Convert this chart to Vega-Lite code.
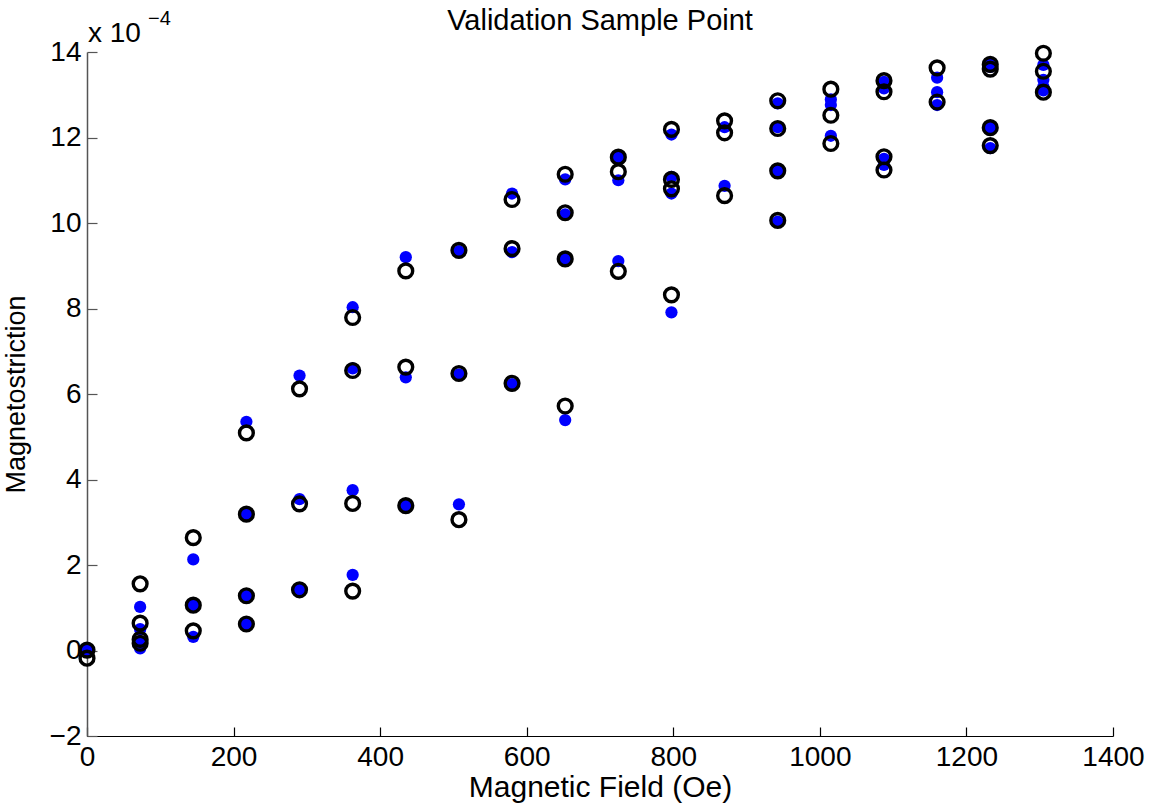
{
  "$schema": "https://vega.github.io/schema/vega-lite/v6.json",
  "autosize": "none",
  "width": 1026,
  "height": 684,
  "padding": {"left": 87, "top": 52, "right": 41, "bottom": 72},
  "background": "white",
  "config": {
    "view": {"stroke": null},
    "font": "Liberation Sans"
  },
  "title": {
    "text": "Validation Sample Point",
    "font": "Liberation Sans",
    "fontSize": 29,
    "fontWeight": "normal",
    "color": "black",
    "anchor": "middle",
    "offset": -27
  },
  "data": {
    "values": [
      {"H": 0, "L": 0.01, "kind": "Model"},
      {"H": 72.5, "L": 1.02, "kind": "Model"},
      {"H": 72.5, "L": 0.50, "kind": "Model"},
      {"H": 72.5, "L": 0.22, "kind": "Model"},
      {"H": 72.5, "L": 0.05, "kind": "Model"},
      {"H": 145, "L": 2.13, "kind": "Model"},
      {"H": 145, "L": 1.06, "kind": "Model"},
      {"H": 145, "L": 0.32, "kind": "Model"},
      {"H": 217.5, "L": 5.35, "kind": "Model"},
      {"H": 217.5, "L": 3.19, "kind": "Model"},
      {"H": 217.5, "L": 1.29, "kind": "Model"},
      {"H": 217.5, "L": 0.62, "kind": "Model"},
      {"H": 290, "L": 6.43, "kind": "Model"},
      {"H": 290, "L": 3.54, "kind": "Model"},
      {"H": 290, "L": 1.42, "kind": "Model"},
      {"H": 362.5, "L": 8.03, "kind": "Model"},
      {"H": 362.5, "L": 6.60, "kind": "Model"},
      {"H": 362.5, "L": 3.75, "kind": "Model"},
      {"H": 362.5, "L": 1.77, "kind": "Model"},
      {"H": 435, "L": 9.20, "kind": "Model"},
      {"H": 435, "L": 6.39, "kind": "Model"},
      {"H": 435, "L": 3.39, "kind": "Model"},
      {"H": 507.5, "L": 9.34, "kind": "Model"},
      {"H": 507.5, "L": 6.46, "kind": "Model"},
      {"H": 507.5, "L": 3.42, "kind": "Model"},
      {"H": 580, "L": 10.69, "kind": "Model"},
      {"H": 580, "L": 9.32, "kind": "Model"},
      {"H": 580, "L": 6.23, "kind": "Model"},
      {"H": 652.5, "L": 11.02, "kind": "Model"},
      {"H": 652.5, "L": 10.20, "kind": "Model"},
      {"H": 652.5, "L": 9.16, "kind": "Model"},
      {"H": 652.5, "L": 5.39, "kind": "Model"},
      {"H": 725, "L": 11.54, "kind": "Model"},
      {"H": 725, "L": 11.00, "kind": "Model"},
      {"H": 725, "L": 9.11, "kind": "Model"},
      {"H": 797.5, "L": 12.07, "kind": "Model"},
      {"H": 797.5, "L": 11.08, "kind": "Model"},
      {"H": 797.5, "L": 10.69, "kind": "Model"},
      {"H": 797.5, "L": 7.91, "kind": "Model"},
      {"H": 870, "L": 12.24, "kind": "Model"},
      {"H": 870, "L": 10.87, "kind": "Model"},
      {"H": 942.5, "L": 12.80, "kind": "Model"},
      {"H": 942.5, "L": 12.24, "kind": "Model"},
      {"H": 942.5, "L": 11.22, "kind": "Model"},
      {"H": 942.5, "L": 10.03, "kind": "Model"},
      {"H": 1015, "L": 12.89, "kind": "Model"},
      {"H": 1015, "L": 12.76, "kind": "Model"},
      {"H": 1015, "L": 12.04, "kind": "Model"},
      {"H": 1087.5, "L": 13.30, "kind": "Model"},
      {"H": 1087.5, "L": 13.15, "kind": "Model"},
      {"H": 1087.5, "L": 11.50, "kind": "Model"},
      {"H": 1087.5, "L": 11.36, "kind": "Model"},
      {"H": 1160, "L": 13.40, "kind": "Model"},
      {"H": 1160, "L": 13.06, "kind": "Model"},
      {"H": 1160, "L": 12.76, "kind": "Model"},
      {"H": 1232.5, "L": 13.73, "kind": "Model"},
      {"H": 1232.5, "L": 13.65, "kind": "Model"},
      {"H": 1232.5, "L": 12.23, "kind": "Model"},
      {"H": 1232.5, "L": 11.75, "kind": "Model"},
      {"H": 1305, "L": 13.70, "kind": "Model"},
      {"H": 1305, "L": 13.35, "kind": "Model"},
      {"H": 1305, "L": 13.19, "kind": "Model"},
      {"H": 1305, "L": 13.10, "kind": "Model"},

      {"H": 0, "L": 0.01, "kind": "Measured"},
      {"H": 0, "L": -0.18, "kind": "Measured"},
      {"H": 72.5, "L": 1.56, "kind": "Measured"},
      {"H": 72.5, "L": 0.64, "kind": "Measured"},
      {"H": 72.5, "L": 0.26, "kind": "Measured"},
      {"H": 72.5, "L": 0.17, "kind": "Measured"},
      {"H": 145, "L": 2.64, "kind": "Measured"},
      {"H": 145, "L": 1.06, "kind": "Measured"},
      {"H": 145, "L": 0.46, "kind": "Measured"},
      {"H": 217.5, "L": 5.09, "kind": "Measured"},
      {"H": 217.5, "L": 3.19, "kind": "Measured"},
      {"H": 217.5, "L": 1.28, "kind": "Measured"},
      {"H": 217.5, "L": 0.62, "kind": "Measured"},
      {"H": 290, "L": 6.12, "kind": "Measured"},
      {"H": 290, "L": 3.43, "kind": "Measured"},
      {"H": 290, "L": 1.42, "kind": "Measured"},
      {"H": 362.5, "L": 7.79, "kind": "Measured"},
      {"H": 362.5, "L": 6.55, "kind": "Measured"},
      {"H": 362.5, "L": 3.44, "kind": "Measured"},
      {"H": 362.5, "L": 1.39, "kind": "Measured"},
      {"H": 435, "L": 8.88, "kind": "Measured"},
      {"H": 435, "L": 6.63, "kind": "Measured"},
      {"H": 435, "L": 3.39, "kind": "Measured"},
      {"H": 507.5, "L": 9.36, "kind": "Measured"},
      {"H": 507.5, "L": 6.48, "kind": "Measured"},
      {"H": 507.5, "L": 3.06, "kind": "Measured"},
      {"H": 580, "L": 10.55, "kind": "Measured"},
      {"H": 580, "L": 9.40, "kind": "Measured"},
      {"H": 580, "L": 6.25, "kind": "Measured"},
      {"H": 652.5, "L": 11.14, "kind": "Measured"},
      {"H": 652.5, "L": 10.24, "kind": "Measured"},
      {"H": 652.5, "L": 9.16, "kind": "Measured"},
      {"H": 652.5, "L": 5.72, "kind": "Measured"},
      {"H": 725, "L": 11.54, "kind": "Measured"},
      {"H": 725, "L": 11.20, "kind": "Measured"},
      {"H": 725, "L": 8.87, "kind": "Measured"},
      {"H": 797.5, "L": 12.19, "kind": "Measured"},
      {"H": 797.5, "L": 11.02, "kind": "Measured"},
      {"H": 797.5, "L": 10.80, "kind": "Measured"},
      {"H": 797.5, "L": 8.32, "kind": "Measured"},
      {"H": 870, "L": 12.39, "kind": "Measured"},
      {"H": 870, "L": 12.11, "kind": "Measured"},
      {"H": 870, "L": 10.64, "kind": "Measured"},
      {"H": 942.5, "L": 12.86, "kind": "Measured"},
      {"H": 942.5, "L": 12.21, "kind": "Measured"},
      {"H": 942.5, "L": 11.22, "kind": "Measured"},
      {"H": 942.5, "L": 10.06, "kind": "Measured"},
      {"H": 1015, "L": 13.13, "kind": "Measured"},
      {"H": 1015, "L": 12.52, "kind": "Measured"},
      {"H": 1015, "L": 11.86, "kind": "Measured"},
      {"H": 1087.5, "L": 13.33, "kind": "Measured"},
      {"H": 1087.5, "L": 13.07, "kind": "Measured"},
      {"H": 1087.5, "L": 11.55, "kind": "Measured"},
      {"H": 1087.5, "L": 11.24, "kind": "Measured"},
      {"H": 1160, "L": 13.63, "kind": "Measured"},
      {"H": 1160, "L": 12.83, "kind": "Measured"},
      {"H": 1232.5, "L": 13.71, "kind": "Measured"},
      {"H": 1232.5, "L": 13.60, "kind": "Measured"},
      {"H": 1232.5, "L": 12.23, "kind": "Measured"},
      {"H": 1232.5, "L": 11.81, "kind": "Measured"},
      {"H": 1305, "L": 13.97, "kind": "Measured"},
      {"H": 1305, "L": 13.55, "kind": "Measured"},
      {"H": 1305, "L": 13.06, "kind": "Measured"}
    ]
  },
  "encoding": {
    "x": {
      "field": "H",
      "type": "quantitative",
      "scale": {"domain": [0, 1400], "nice": false, "zero": false},
      "axis": {
        "title": "Magnetic Field (Oe)",
        "values": [0, 200, 400, 600, 800, 1000, 1200, 1400],
        "format": "d",
        "grid": false,
        "domainColor": "#000000",
        "domainWidth": 1.2,
        "tickColor": "#000000",
        "tickWidth": 1.2,
        "tickSize": -9,
        "labelPadding": 16,
        "labelFont": "Liberation Sans",
        "labelFontSize": 28,
        "labelColor": "black",
        "labelFlush": false,
        "labelOverlap": false,
        "titleFont": "Liberation Sans",
        "titleFontSize": 30,
        "titleFontWeight": "normal",
        "titleColor": "black",
        "titlePadding": 1
      }
    },
    "y": {
      "field": "L",
      "type": "quantitative",
      "scale": {"domain": [-2, 14], "nice": false, "zero": false},
      "axis": {
        "title": "Magnetostriction",
        "values": [-2, 0, 2, 4, 6, 8, 10, 12, 14],
        "format": "d",
        "grid": false,
        "domainColor": "#555555",
        "domainWidth": 1.5,
        "tickColor": "#555555",
        "tickWidth": 1.2,
        "tickSize": -10,
        "labelPadding": 16,
        "labelFont": "Liberation Sans",
        "labelFontSize": 28,
        "labelColor": "black",
        "labelFlush": false,
        "labelOverlap": false,
        "titleFont": "Liberation Sans",
        "titleFontSize": 27,
        "titleFontWeight": "normal",
        "titleColor": "black",
        "titlePadding": 19
      }
    }
  },
  "layer": [
    {
      "transform": [{"filter": "datum.kind === 'Model'"}],
      "mark": {"type": "point", "shape": "circle", "filled": true, "color": "#0000FF", "size": 150, "opacity": 1, "clip": false}
    },
    {
      "transform": [{"filter": "datum.kind === 'Measured'"}],
      "mark": {"type": "point", "shape": "circle", "filled": false, "color": "#000000", "size": 190, "strokeWidth": 3.4, "opacity": 1, "clip": false}
    },
    {
      "data": {"values": [{"H": 0, "L": 14, "t": "x 10"}]},
      "mark": {"type": "text", "align": "left", "baseline": "alphabetic", "dx": 1, "dy": -10, "font": "Liberation Sans", "fontSize": 28, "color": "black"},
      "encoding": {"text": {"field": "t"}}
    },
    {
      "data": {"values": [{"H": 0, "L": 14, "t": "−4"}]},
      "mark": {"type": "text", "align": "left", "baseline": "alphabetic", "dx": 61, "dy": -27, "font": "Liberation Sans", "fontSize": 20, "color": "black"},
      "encoding": {"text": {"field": "t"}}
    }
  ]
}
